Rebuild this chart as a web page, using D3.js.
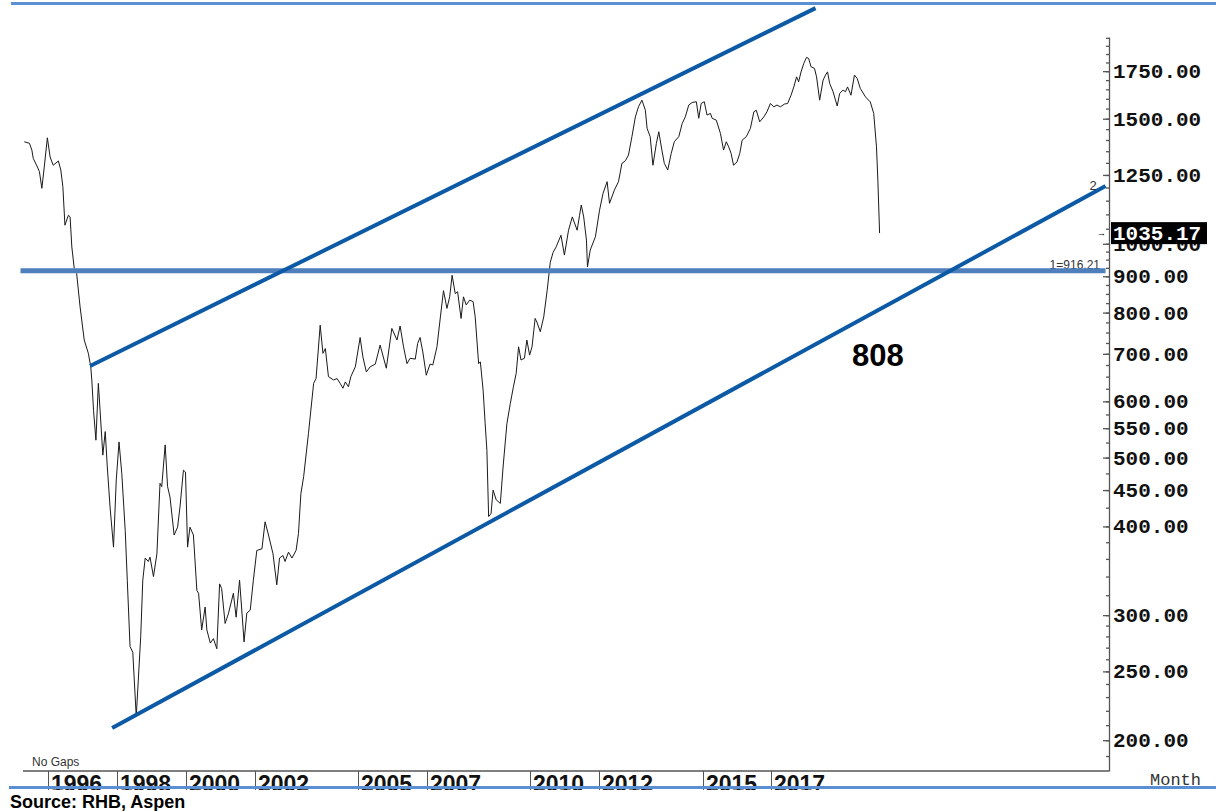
<!DOCTYPE html>
<html>
<head>
<meta charset="utf-8">
<script src="https://cdn.jsdelivr.net/npm/d3@7"></script>
<style>
  body { margin: 0; background: #fff; }
  svg { display: block; }
</style>
</head>
<body>
<div id="chart-area"></div>
<script>
// monthly closes, decimal year
var dates = [
  1995.31,1995.46,1995.53,1995.57,1995.69,1995.75,1995.82,1995.89,1995.98,1996.06,1996.15,1996.30,1996.37,1996.43,1996.49,1996.59,1996.64,1996.69,1996.76,1996.83,1996.93,1997.05,1997.17,1997.24,
  1997.27,1997.32,1997.39,1997.46,1997.51,1997.59,1997.66,1997.72,1997.80,1997.90,1997.98,1998.06,1998.14,1998.24,1998.30,1998.38,1998.46,1998.56,1998.62,1998.69,1998.75,1998.82,1998.91,1998.96,1999.06,1999.16,1999.25,1999.30,1999.40,1999.47,1999.54,1999.66,1999.76,1999.83,1999.93,1999.99,2000.05,2000.12,2000.22,2000.32,2000.37,2000.46,2000.56,2000.61,2000.71,2000.80,2000.90,2000.98,2001.04,2001.14,2001.24,2001.38,2001.46,2001.56,2001.63,2001.69,2001.77,2001.87,2001.96,2002.06,2002.21,2002.30,2002.40,2002.53,2002.64,2002.72,2002.82,2002.88,2002.98,2003.08,2003.20,2003.27,2003.34,
  2003.42,2003.56,2003.71,2003.78,2003.90,2003.98,2004.05,2004.14,2004.29,2004.39,2004.48,2004.56,2004.63,2004.72,2004.79,2004.92,2005.06,2005.14,2005.24,2005.35,2005.50,2005.64,2005.82,2005.98,2006.13,2006.22,2006.32,2006.42,2006.51,2006.66,2006.73,2006.80,2006.88,2006.98,2007.09,2007.17,2007.29,2007.39,2007.48,2007.58,2007.66,2007.73,2007.82,2007.89,2007.99,2008.06,2008.14,2008.24,2008.34,2008.40,2008.50,2008.55,2008.63,2008.69,2008.74,2008.79,2008.86,2008.92,2009.01,2009.13,2009.21,2009.32,2009.42,2009.51,2009.59,2009.66,2009.73,2009.83,2009.90,2009.98,2010.05,2010.14,2010.19,2010.29,2010.39,2010.49,2010.58,2010.66,
  2010.75,2010.89,2010.99,2011.11,2011.22,2011.36,2011.43,2011.48,2011.55,2011.63,2011.66,2011.74,2011.89,2012.01,2012.11,2012.23,2012.30,2012.44,2012.56,2012.66,2012.76,2012.85,2012.95,2013.05,2013.14,2013.24,2013.34,2013.39,2013.48,2013.56,2013.66,2013.73,2013.82,2013.89,2013.99,2014.09,2014.18,2014.31,2014.41,2014.50,2014.60,2014.70,2014.82,2014.89,2014.96,2015.05,2015.13,2015.23,2015.28,2015.40,2015.52,2015.61,2015.69,2015.76,2015.83,2015.90,2016.00,2016.08,2016.15,2016.27,2016.39,2016.49,2016.56,2016.66,2016.78,2016.87,2016.97,2017.07,2017.16,2017.26,2017.38,2017.47,2017.57,2017.65,2017.73,2017.79,2017.86,2017.94,2018.02,2018.08,2018.15,2018.25,2018.31,2018.40,2018.50,2018.57,2018.63,2018.69,2018.79,2018.91,2018.98,2019.08,2019.15,2019.21,2019.31,2019.41,2019.49,2019.58,2019.73,2019.87,2019.97,2020.05,2020.09,2020.14
];
var values = [
  1392,1385,1355,1319,1283,1263,1197,1283,1410,1325,1290,1308,1270,1203,1062,1097,1091,990,923,908,815,732,701,671,
  643,583,529,636,583,504,544,485,426,374,465,526,475,395,336,271,266,216,243,280,336,361,357,362,340,366,460,455,521,455,440,389,399,426,480,477,374,399,389,325,322,286,308,286,274,278,269,332,327,292,302,322,298,336,302,275,302,305,336,370,372,406,389,366,331,361,364,357,368,361,370,391,445,
  470,541,636,646,768,701,712,650,643,646,636,626,639,629,650,671,738,693,660,671,677,720,668,760,732,766,716,678,690,688,724,738,704,653,677,675,716,789,859,811,842,903,851,856,785,842,820,833,829,789,678,682,622,558,512,413,417,450,436,431,485,558,596,629,657,716,686,690,732,697,716,785,776,752,789,860,942,972,
  990,1028,964,1045,1091,1045,1097,1134,1091,1012,928,980,1023,1115,1177,1223,1140,1190,1223,1298,1309,1333,1415,1509,1559,1593,1542,1454,1415,1290,1385,1438,1355,1298,1270,1340,1392,1415,1477,1509,1568,1581,1585,1502,1576,1585,1518,1526,1502,1493,1430,1355,1392,1369,1340,1290,1304,1340,1399,1415,1454,1534,1542,1485,1509,1534,1576,1559,1568,1559,1573,1576,1619,1663,1718,1691,1746,1795,1830,1824,1775,1766,1718,1593,1700,1728,1746,1682,1637,1563,1628,1646,1637,1663,1619,1728,1709,1655,1610,1584,1526,1369,1229,1035.17
];

var yearTicks = [1996, 1998, 2000, 2002, 2005, 2007, 2010, 2012, 2015, 2017];
var priceTicks = [200, 250, 300, 400, 450, 500, 550, 600, 700, 800, 900, 1000, 1250, 1500, 1750];

var lastValue = 1035.17;
var supportLevel = 916.21;
var upperChannel = [[1997.22, 673], [2018.28, 2147]];
var lowerChannel = [[1997.86, 208], [2026.70, 1206]];
var targetLabel = '808';

var mono = "'Liberation Mono', 'Courier New', monospace";
var sans = "'Liberation Sans', Arial, sans-serif";

var svg = d3.select('#chart-area').append('svg')
  .attr('width', 1216)
  .attr('height', 811);

svg.append('rect').attr('width', 1216).attr('height', 811).attr('fill', '#fff');

svg.append('defs').append('clipPath').attr('id', 'page')
  .append('rect').attr('x', 0).attr('y', 0).attr('width', 1216).attr('height', 790);

var x = d3.scaleLinear()
  .domain([1995.2, 2026.8])
  .range([20.5, 1109]);

var y = d3.scaleLog()
  .domain([181, 1955])
  .range([771, 37]);

var page = svg.append('g').attr('clip-path', 'url(#page)');

// right price axis
var minorTicks = d3.range(190, 300, 10)
  .concat(d3.range(300, 400, 20))
  .concat(d3.range(400, 1000, 25))
  .concat(d3.range(1000, 1960, 50));

var axisG = page.append('g').attr('transform', 'translate(1109,0)');
axisG.call(d3.axisLeft(y).tickValues(minorTicks).tickSize(3).tickSizeOuter(0).tickFormat(''));
axisG.append('g').call(d3.axisLeft(y).tickValues(priceTicks).tickSize(6).tickSizeOuter(0).tickFormat(''))
  .select('.domain').remove();
axisG.selectAll('path, line').attr('stroke', '#555').attr('stroke-width', 1.3);

page.selectAll('.price-label')
  .data(priceTicks)
  .enter().append('text')
    .attr('class', 'price-label')
    .attr('x', 1113)
    .attr('y', function(d) { return y(d) + 7; })
    .attr('font-family', mono)
    .attr('font-size', 21)
    .attr('font-weight', 'bold')
    .attr('fill', '#111')
    .text(function(d) { return d3.format('.2f')(d); });

// last value marker
var lastY = y(lastValue);
page.append('rect')
  .attr('x', 1111).attr('y', lastY - 11)
  .attr('width', 96).attr('height', 22)
  .attr('fill', '#000');
page.append('text')
  .attr('x', 1113).attr('y', lastY + 7)
  .attr('font-family', mono).attr('font-size', 21).attr('font-weight', 'bold')
  .attr('fill', '#fff')
  .text(d3.format('.2f')(lastValue));
page.append('text')
  .attr('x', 1097).attr('y', lastY + 3)
  .attr('font-family', sans).attr('font-size', 9)
  .attr('fill', '#000')
  .text('\u2192');

// date axis
page.append('line')
  .attr('x1', 23).attr('x2', 1109)
  .attr('y1', 771).attr('y2', 771)
  .attr('stroke', '#555').attr('stroke-width', 1.3);

var yearG = page.selectAll('.year')
  .data(yearTicks)
  .enter().append('g')
    .attr('class', 'year')
    .attr('transform', function(d) { return 'translate(' + Math.round(x(d)) + ',0)'; });
yearG.append('line')
  .attr('x1', 0.5).attr('x2', 0.5)
  .attr('y1', 771).attr('y2', 790)
  .attr('stroke', '#555');
yearG.append('text')
  .attr('x', 3).attr('y', 792)
  .attr('font-family', sans).attr('font-size', 23).attr('font-weight', 'bold')
  .attr('fill', '#111')
  .text(function(d) { return d; });

page.append('text')
  .attr('x', 32).attr('y', 766)
  .attr('font-family', sans).attr('font-size', 12)
  .attr('fill', '#333')
  .text('No  Gaps');

page.append('text')
  .attr('x', 1150).attr('y', 785)
  .attr('font-family', mono).attr('font-size', 17)
  .attr('fill', '#333')
  .text('Month');

// price line
var line = d3.line()
  .x(function(d) { return x(d[0]); })
  .y(function(d) { return y(d[1]); });

page.append('path')
  .datum(d3.zip(dates, values))
  .attr('fill', 'none')
  .attr('stroke', '#1a1a1a')
  .attr('stroke-width', 1)
  .attr('d', line);

// support level and channel
page.append('text')
  .attr('x', 1100).attr('y', 269)
  .attr('text-anchor', 'end')
  .attr('font-family', sans).attr('font-size', 12)
  .attr('fill', '#333')
  .text('1=' + supportLevel);

page.append('line')
  .attr('x1', x(1995.2)).attr('x2', x(2026.7))
  .attr('y1', y(supportLevel)).attr('y2', y(supportLevel))
  .attr('stroke', '#4f7fbd').attr('stroke-width', 5);

[upperChannel, lowerChannel].forEach(function(seg) {
  page.append('path')
    .datum(seg)
    .attr('fill', 'none')
    .attr('stroke', '#0c5aa6')
    .attr('stroke-width', 4)
    .attr('d', line);
});

page.append('text')
  .attr('x', x(lowerChannel[1][0]) - 16).attr('y', y(lowerChannel[1][1]) + 4)
  .attr('font-family', sans).attr('font-size', 13)
  .attr('fill', '#333')
  .text('2');

page.append('text')
  .attr('x', 852).attr('y', 366)
  .attr('font-family', sans).attr('font-size', 31).attr('font-weight', 'bold')
  .attr('fill', '#000')
  .text(targetLabel);

// page borders and source
svg.append('rect').attr('x', 11).attr('y', 2).attr('width', 1205).attr('height', 3).attr('fill', '#5b8fd4');
svg.append('rect').attr('x', 9).attr('y', 786).attr('width', 1207).attr('height', 3).attr('fill', '#5b8fd4');

svg.append('text')
  .attr('x', 10).attr('y', 808)
  .attr('font-family', sans).attr('font-size', 18).attr('font-weight', 'bold')
  .attr('fill', '#000')
  .text('Source: RHB, Aspen');
</script>
</body>
</html>
